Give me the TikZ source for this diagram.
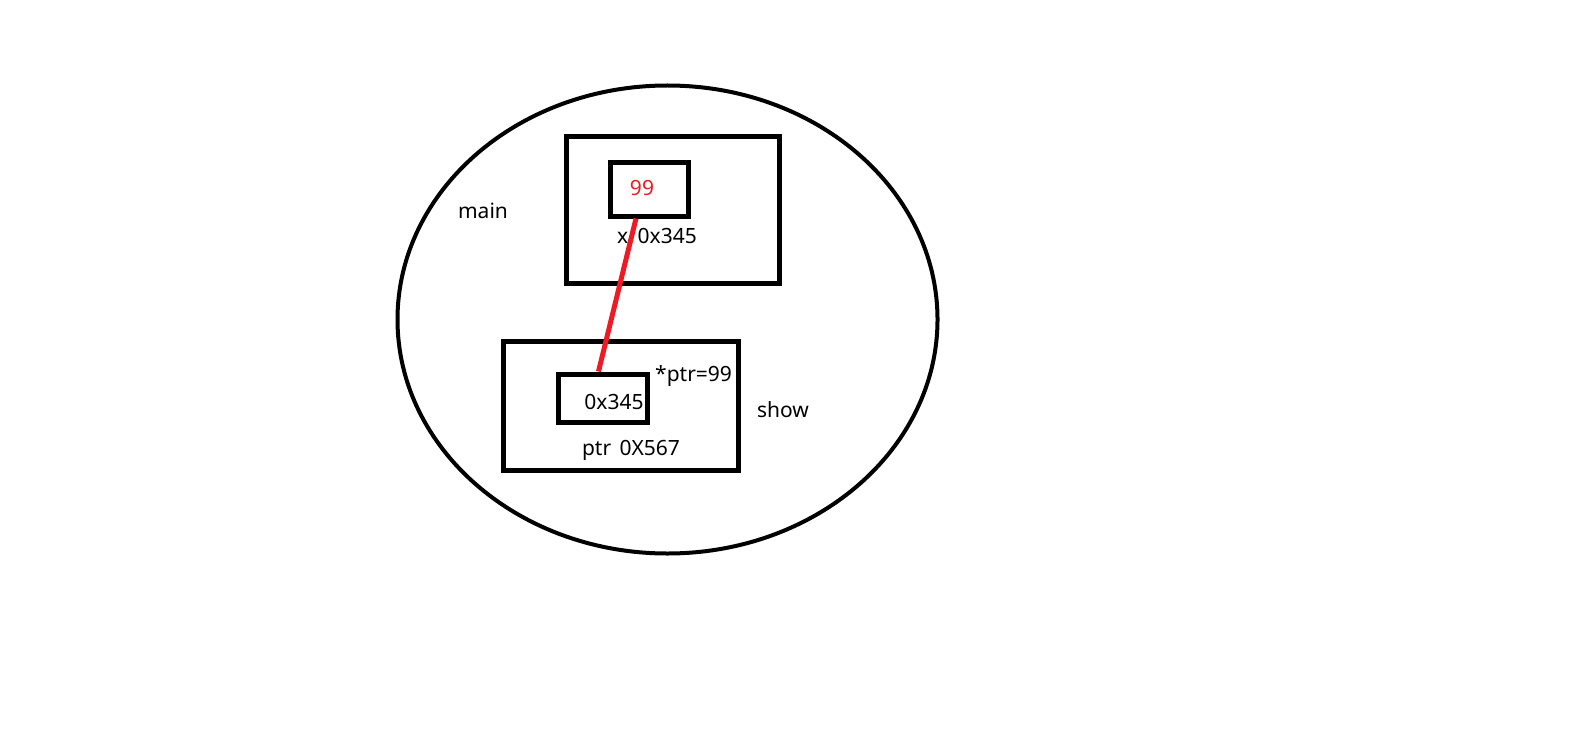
\documentclass[tikz,border=0pt]{standalone}
\usepackage{fontspec}
\setmainfont{Noto Sans}
\usetikzlibrary{calc,positioning}
\definecolor{paintred}{RGB}{237,28,36}
\tikzset{
    frame/.style={draw,line width=5pt,minimum width=#1},
    cell/.style={draw,line width=5pt,inner sep=0pt},
    label text/.style={inner sep=0pt,font=\fontsize{21}{25}\selectfont},
    link/.style={paintred,line width=5pt},
}

\begin{document}
\begin{tikzpicture}[x=1pt,y=-1pt]
    \useasboundingbox (0,0) rectangle (1594,746);
    \draw[line width=4pt] (667.5,319.5) ellipse[x radius=270, y radius=234];
    \node[label text] (mainlbl) at (483,211) {main};
    \node[label text] (showlbl) at (783,410) {show};

    % main's frame with x
    \node[frame=213pt,minimum height=146pt] (mainframe) at (672.5,210) {};
    \node[cell,minimum width=78pt,minimum height=53pt] (xcell) at (649,189.5) {};
    \node[label text,text=paintred] (xval) at (642,188) {99};
    \node[label text] (xname) at (657,236) {x\hspace{0.45em}0x345};

    % show's frame with ptr
    \node[frame=235pt,minimum height=129pt] (showframe) at (620.5,405.5) {};
    \node[cell,minimum width=89pt,minimum height=48pt] (ptrcell) at (602.5,398) {};
    \node[label text] (ptrval) at (614,402) {0x345};
    \node[label text,anchor=west] (deref) at (655,376) {*ptr=99};
    \node[label text] (ptrname) at (631,450) {ptr\hspace{0.4em}0X567};

    \coordinate (xpin) at ([xshift=-13pt]xcell.south);
    \coordinate (ptrpin) at ([xshift=-4pt]ptrcell.north);
    \draw[link] (xpin) -- (ptrpin);
\end{tikzpicture}
\end{document}
